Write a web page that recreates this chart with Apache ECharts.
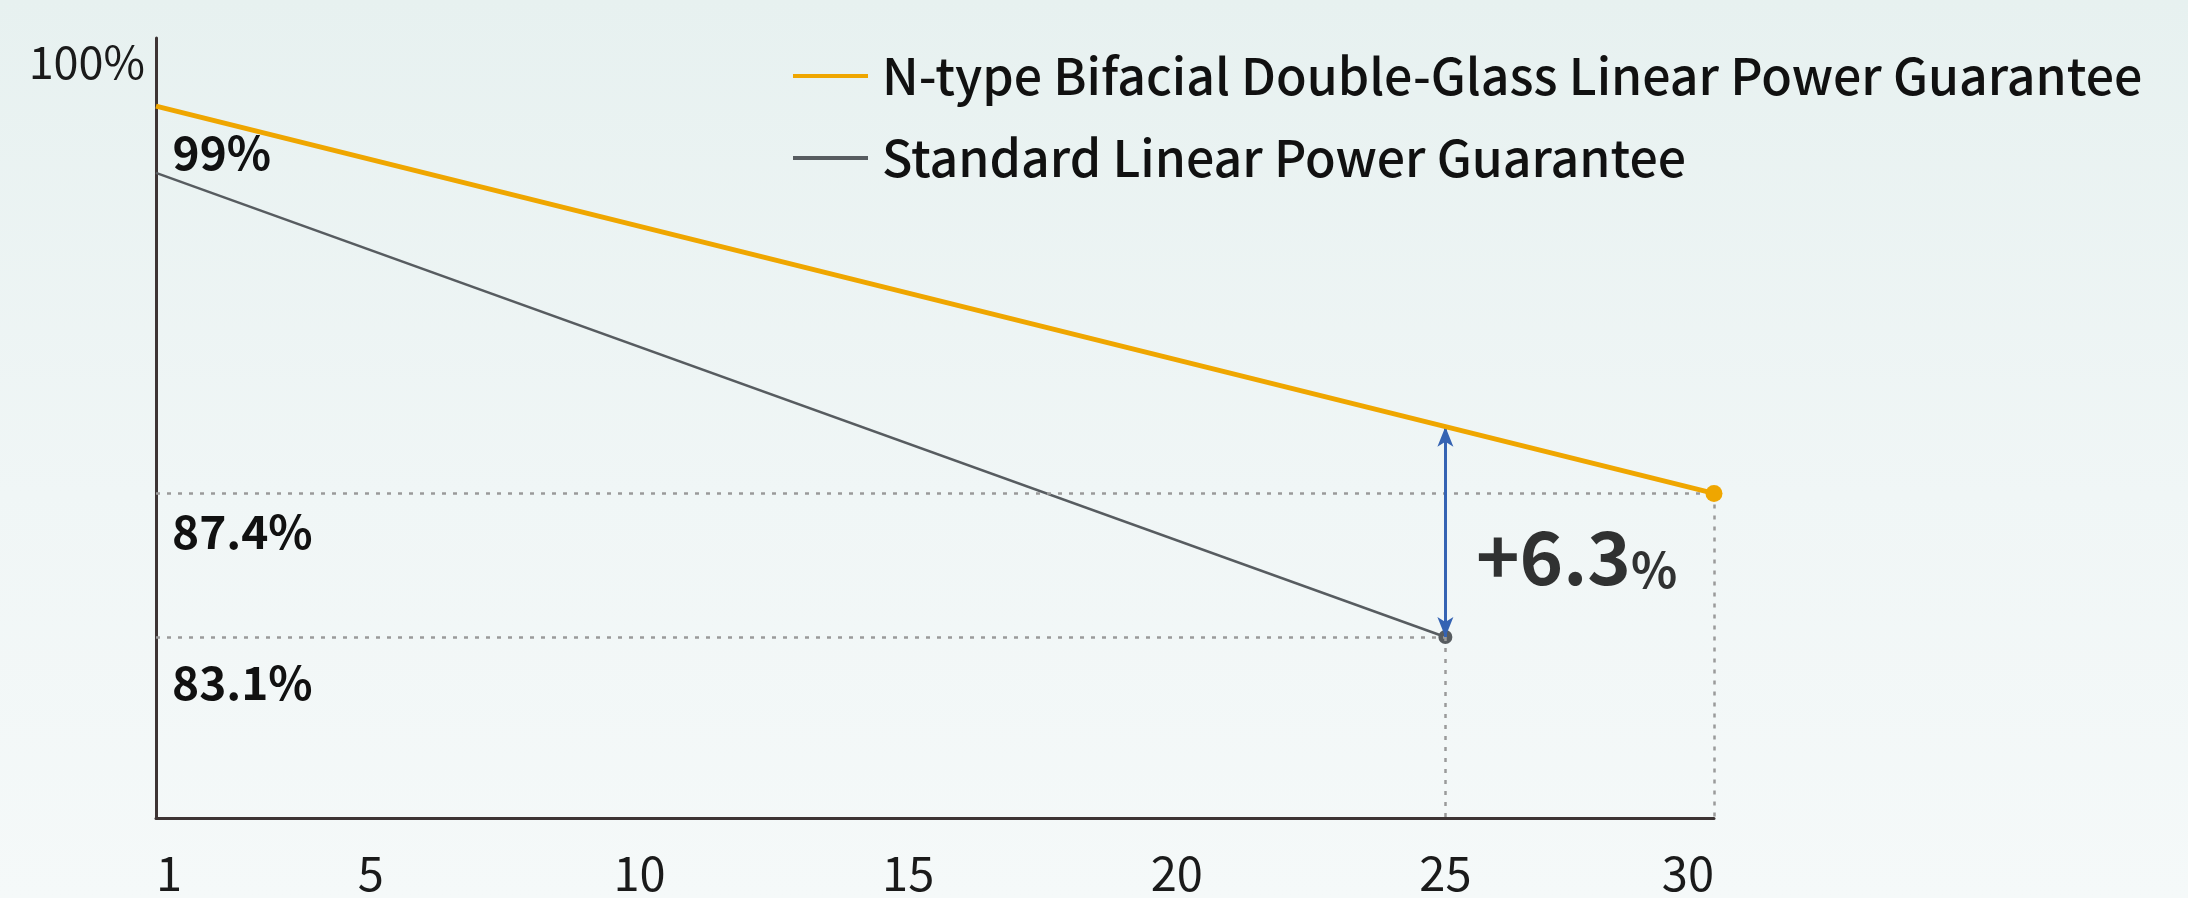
<!DOCTYPE html>
<html>
<head>
<meta charset="utf-8">
<style>
  html, body { margin: 0; padding: 0; }
  body { background: linear-gradient(180deg, #e7f1f0 0%, #f0f6f6 55%, #f5f9f9 100%); }
  #main { width: 2188px; height: 898px; }
</style>
<script src="https://cdn.jsdelivr.net/npm/echarts@6/dist/echarts.min.js"></script>
</head>
<body>
<div id="main"></div>
<script>
// chart data
var yearTicks = [1, 5, 10, 15, 20, 25, 30];
var nTypeYears = [1, 30];
var nTypeValues = [99, 87.4];
var stdYears = [1, 25];
var stdValues = [97, 83.1];
var gapYear = 25;
var gapTop = 89.4;     // N-type at year 25
var gapBottom = 83.1;  // standard at year 25
var gapText = '+6.3';

var nTypeName = 'N-type Bifacial Double-Glass Linear Power Guarantee';
var stdName = 'Standard Linear Power Guarantee';

var FONT = '"Noto Sans CJK SC", "Noto Sans", sans-serif';
var yMin = 77.68, yMax = 101.04;

var dotted = { color: '#9a9a9a', width: 2.5, type: [4, 7] };
var boldLabel = { fontFamily: FONT, fontSize: 46, fontWeight: 'bold', color: '#111' };

var chart = echarts.init(document.getElementById('main'));

var nTypeData = nTypeYears.map(function (x, i) { return [x, nTypeValues[i]]; });
var stdData = stdYears.map(function (x, i) { return [x, stdValues[i]]; });
var nLast = nTypeData.length - 1, sLast = stdData.length - 1;

chart.setOption({
  backgroundColor: 'transparent',
  animation: false,
  grid: { left: 156, right: 474, top: 38, bottom: 80, outerBoundsMode: 'none' },
  legend: {
    data: [nTypeName, stdName],
    orient: 'vertical',
    left: 788, top: 46,
    icon: 'rect',
    itemWidth: 75, itemHeight: 4, itemGap: 32,
    textStyle: { fontFamily: FONT, fontSize: 50, fontWeight: 500, lineHeight: 47, color: '#111', padding: [0, 0, 0, 9] }
  },
  xAxis: {
    type: 'value', min: 1, max: 30,
    splitLine: { show: false },
    axisTick: { show: false },
    axisLine: { lineStyle: { color: '#3d3434', width: 3 } },
    axisLabel: {
      customValues: yearTicks,
      margin: 32,
      fontFamily: FONT, fontSize: 47, color: '#1a1a1a',
      alignMinLabel: 'left', alignMaxLabel: 'right'
    }
  },
  yAxis: {
    type: 'value', min: yMin, max: yMax,
    splitLine: { show: false },
    axisTick: { show: false },
    axisLine: { show: true, lineStyle: { color: '#3d3434', width: 3 } },
    axisLabel: {
      customValues: [100],
      formatter: function (v) { return v + '%'; },
      margin: 11,
      verticalAlign: 'bottom',
      lineHeight: 22,
      fontFamily: FONT, fontSize: 45, color: '#1a1a1a'
    }
  },
  series: [
    {
      name: nTypeName,
      type: 'line',
      clip: false,
      z: 5,
      color: '#efa600',
      lineStyle: { color: '#efa600', width: 5 },
      itemStyle: { color: '#efa600' },
      symbol: 'circle',
      showSymbol: true,
      data: nTypeData.map(function (p, i) {
        if (i === 0) {
          return {
            value: p, symbolSize: 1, itemStyle: { color: 'rgba(0,0,0,0)' },
            label: Object.assign({ show: true, position: 'right', distance: 16, offset: [0, 46],
              formatter: nTypeValues[0] + '%' }, boldLabel)
          };
        }
        return { value: p, symbolSize: i === nLast ? 17 : 0 };
      }),
      markLine: {
        silent: true, symbol: 'none', animation: false,
        lineStyle: dotted,
        label: { show: false },
        data: [
          [
            { coord: [nTypeYears[0], nTypeValues[nLast]],
              label: Object.assign({ show: true, position: 'insideStartBottom', distance: [16, 15],
                formatter: nTypeValues[nLast] + '%' }, boldLabel) },
            { coord: [nTypeYears[nLast], nTypeValues[nLast]] }
          ],
          [
            { coord: [nTypeYears[nLast], nTypeValues[nLast]] },
            { coord: [nTypeYears[nLast], yMin] }
          ]
        ]
      }
    },
    {
      name: stdName,
      type: 'line',
      clip: false,
      z: 4,
      color: '#575c60',
      lineStyle: { color: '#575c60', width: 2.5 },
      itemStyle: { color: '#575c60' },
      symbol: 'circle',
      showSymbol: true,
      data: stdData.map(function (p, i) {
        return { value: p, symbolSize: i === sLast ? 14 : 0 };
      }),
      markLine: {
        silent: true, symbol: 'none', animation: false,
        lineStyle: dotted,
        label: { show: false },
        data: [
          [
            { coord: [stdYears[0], stdValues[sLast]],
              label: Object.assign({ show: true, position: 'insideStartBottom', distance: [16, 22],
                formatter: stdValues[sLast] + '%' }, boldLabel) },
            { coord: [stdYears[sLast], stdValues[sLast]] }
          ],
          [
            { coord: [stdYears[sLast], stdValues[sLast]] },
            { coord: [stdYears[sLast], yMin] }
          ],
          [
            { coord: [gapYear, gapTop], symbol: 'arrow', symbolSize: [12, 20],
              lineStyle: { color: '#3563b3', width: 3, type: 'solid' } },
            { coord: [gapYear, gapBottom], symbol: 'arrow', symbolSize: [12, 20] }
          ]
        ]
      }
    },
    {
      name: 'gap',
      type: 'scatter',
      silent: true,
      z: 6,
      symbolSize: 1,
      itemStyle: { color: 'rgba(0,0,0,0)' },
      label: {
        show: true,
        position: 'right',
        distance: 30,
        offset: [0, 22],
        formatter: '{a|' + gapText + '}{b|%}',
        rich: {
          a: { fontFamily: FONT, fontSize: 74, fontWeight: 'bold', color: '#000', lineHeight: 80, verticalAlign: 'bottom' },
          b: { fontFamily: FONT, fontSize: 48, fontWeight: 'bold', color: '#000', lineHeight: 64, verticalAlign: 'bottom' }
        }
      },
      data: [[gapYear, (gapTop + gapBottom) / 2]]
    }
  ]
});
</script>
</body>
</html>
